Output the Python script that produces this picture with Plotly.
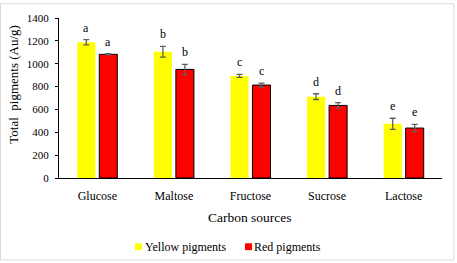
import plotly.graph_objects as go

categories = ["Glucose", "Maltose", "Fructose", "Sucrose", "Lactose"]
yellow_vals = [1188, 1105, 893, 712, 474]
yellow_err = [23, 47, 13, 25, 49]
red_vals = [1082, 950, 813, 635, 437]
red_err = [5, 45, 18, 24, 32]
yellow_letters = ["a", "b", "c", "d", "e"]
red_letters = ["a", "b", "c", "d", "e"]
y_ticks = [0, 200, 400, 600, 800, 1000, 1200, 1400]

W, H = 457, 263
L, R, T, B = 59, 15, 15, 85
PW, PH = W - L - R, H - T - B
FONT = "Liberation Serif"

def px(x):
    return (x - L) / PW

def py(y):
    return (H - B - y) / PH

fig = go.Figure()
fig.add_bar(x=categories, y=yellow_vals, name="Yellow pigments",
            marker=dict(color="#FFFF00", line=dict(width=0)),
            error_y=dict(type="data", array=yellow_err, color="#606060", thickness=1.3, width=3),
            showlegend=False)
fig.add_bar(x=categories, y=red_vals, name="Red pigments",
            marker=dict(color="#FF0000", line=dict(color="black", width=1)),
            error_y=dict(type="data", array=red_err, color="#606060", thickness=1.3, width=3),
            showlegend=False)

ann = []
for i, c in enumerate(categories):
    ann.append(dict(x=c, y=yellow_vals[i] + yellow_err[i], text=yellow_letters[i], xshift=-11, yshift=3,
                    showarrow=False, yanchor="bottom", font=dict(family=FONT, size=12, color="black")))
    ann.append(dict(x=c, y=red_vals[i] + red_err[i], text=red_letters[i], xshift=11, yshift=3,
                    showarrow=False, yanchor="bottom", font=dict(family=FONT, size=12, color="black")))

ann.append(dict(xref="paper", yref="paper", x=px(250), y=py(218), text="Carbon sources", showarrow=False,
                xanchor="center", yanchor="middle", font=dict(family=FONT, size=13.5, color="black")))
ann.append(dict(xref="paper", yref="paper", x=px(14), y=py(83), text="Total  pigments (Au/g)", showarrow=False,
                textangle=-90, xanchor="center", yanchor="middle", font=dict(family=FONT, size=13, color="black")))
ann.append(dict(xref="paper", yref="paper", x=px(145), y=py(248), text="Yellow pigments", showarrow=False,
                xanchor="left", yanchor="middle", xshift=-2, font=dict(family=FONT, size=12, color="black")))
ann.append(dict(xref="paper", yref="paper", x=px(254), y=py(248), text="Red pigments", showarrow=False,
                xanchor="left", yanchor="middle", xshift=-2, font=dict(family=FONT, size=12, color="black")))

shapes = [
    dict(type="rect", xref="paper", yref="paper", x0=px(135), x1=px(142), y0=py(244.5), y1=py(251.5),
         fillcolor="#FFFF00", line=dict(width=0)),
    dict(type="rect", xref="paper", yref="paper", x0=px(245), x1=px(252), y0=py(244.5), y1=py(251.5),
         fillcolor="#FF0000", line=dict(width=0)),
    dict(type="rect", xref="paper", yref="paper", x0=px(0.5), x1=px(454), y0=py(0.5), y1=py(261.5),
         line=dict(color="#D9D9D9", width=1)),
]

fig.update_layout(
    width=W, height=H,
    margin=dict(l=L, r=R, t=T, b=B, pad=0),
    paper_bgcolor="white", plot_bgcolor="white",
    barmode="group", bargap=0.426, bargroupgap=0.18,
    font=dict(family=FONT, size=12, color="black"),
    annotations=ann, shapes=shapes,
    xaxis=dict(range=[-0.5, 4.5], showline=True, linecolor="black", linewidth=1,
               ticks="outside", ticklen=7, tickcolor="rgba(0,0,0,0)", showgrid=False,
               tickfont=dict(family=FONT, size=12, color="black"), fixedrange=True),
    yaxis=dict(range=[0, 1400], tickvals=y_ticks, showline=True, linecolor="black", linewidth=1,
               ticks="outside", ticklen=3, tickcolor="black", showgrid=False, zeroline=False,
               ticklabelstandoff=4,
               tickfont=dict(family=FONT, size=11, color="black"), fixedrange=True),
)

fig.write_html("out.html", config={"displayModeBar": False},
               post_script="document.body.style.margin='0px';")
